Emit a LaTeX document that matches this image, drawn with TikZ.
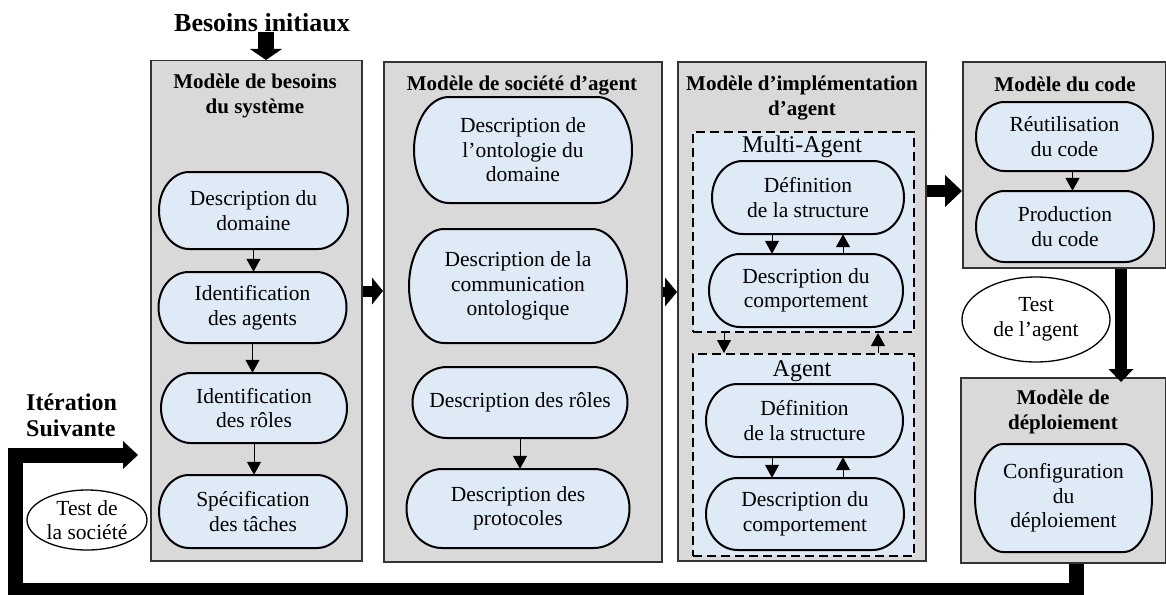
\documentclass[tikz,border=0pt]{standalone}
\usepackage{fontspec}
\setmainfont{Liberation Serif}
\usetikzlibrary{arrows.meta,shapes.geometric}

\definecolor{boxgray}{HTML}{D9D9D9}
\definecolor{stepblue}{HTML}{DEEAF6}

% Terminator-shaped step: straight top and bottom, half-elliptic ends.
% #1 name, #2 centre x, #3 centre y, #4 width, #5 height, #6 text
\newcommand\termnode[6]{%
  \draw[termline] ({#2-#4/2+0.16*#4},{#3-#5/2})
    arc[start angle=90,end angle=270,x radius={0.16*#4pt},y radius={#5/2*1pt}]
    -- ({#2+#4/2-0.16*#4},{#3+#5/2})
    arc[start angle=-90,end angle=90,x radius={0.16*#4pt},y radius={#5/2*1pt}]
    -- cycle;
  \node[proc,minimum width=#4pt,minimum height=#5pt] (#1) at (#2,#3) {#6};}

\begin{document}
\begin{tikzpicture}[x=1pt,y=-1pt,
  model/.style={draw=black!80,line width=1.5pt,fill=boxgray,inner sep=0pt,anchor=north west},
  title/.style={font=\fontsize{21}{25}\selectfont\bfseries,align=center,inner sep=0pt},
  termline/.style={draw,line width=2pt,fill=stepblue},
  proc/.style={align=center,inner sep=0pt,font=\fontsize{21.5}{24.5}\selectfont},
  group/.style={draw,line width=2pt,dash pattern=on 9pt off 5pt,fill=stepblue,
                inner sep=0pt,anchor=north west},
  grouplabel/.style={font=\fontsize{24}{26}\selectfont,inner sep=0pt},
  testbubble/.style={draw,ellipse,line width=1.3pt,fill=white,inner sep=0pt,align=center,
                     font=\fontsize{21.5}{24.5}\selectfont},
  flow/.style={line width=1pt,-{Triangle[length=13pt,width=14pt]}},
]
\useasboundingbox (0,0) rectangle (1166,594);

% ---------- model boxes ----------
\node[model,minimum width=211pt,minimum height=500pt] (box1) at (150,60) {};
\node[model,minimum width=278pt,minimum height=500pt] (box2) at (383,61) {};
\node[model,minimum width=248pt,minimum height=499pt] (box3) at (677,61) {};
\node[model,minimum width=203pt,minimum height=206pt] (box4) at (962,61) {};
\node[model,minimum width=205pt,minimum height=185pt] (box5) at (960,377) {};

% ---------- titles ----------
\node[font=\fontsize{26}{28}\selectfont\bfseries,inner sep=0pt] (need) at (262,23) {Besoins initiaux};
\node[title] (t1) at (255,95.5) {Modèle de besoins\\du système};
\node[title] (t2) at (522,86) {Modèle de société d’agent};
\node[title] (t3) at (802,98) {Modèle d’implémentation\\d’agent};
\node[title] (t4) at (1065,84) {Modèle du code};
\node[title] (t5) at (1063,412) {Modèle de\\déploiement};
\node[font=\fontsize{24}{26}\selectfont\bfseries,align=left,inner sep=0pt,anchor=west]
  (iter) at (26,415) {Itération\\Suivante};

% ---------- requirements model ----------
\termnode{n11}{253.5}{210.5}{189}{77}{Description du\\domaine}
\termnode{n12}{252.5}{307.5}{188}{71}{Identification\\des agents}
\termnode{n13}{254}{408}{186}{70}{Identification\\des rôles}
\termnode{n14}{253}{511.5}{188}{73}{Spécification\\des tâches}
\draw[flow] (n11.south) -- (n11.south |- n12.north);
\draw[flow] (n12.south) -- (n12.south |- n13.north);
\draw[flow] (n13.south) -- (n13.south |- n14.north);

% ---------- agent society model ----------
\termnode{n21}{523}{150}{218}{106}{Description de\\l’ontologie du\\domaine}
\termnode{n22}{518}{286}{218}{114}{Description de la\\communication\\ontologique}
\termnode{n23}{520}{402.5}{215}{71}{Description des rôles}
\termnode{n24}{518}{508.5}{223}{79}{Description des\\protocoles}
\draw[flow] (n23.south) -- (n23.south |- n24.north);

% ---------- agent implementation model ----------
\node[group,minimum width=221pt,minimum height=200pt] (ma) at (692,131) {};
\node[group,minimum width=221pt,minimum height=202pt] (ag) at (692,353) {};
\node[grouplabel] (malab) at (802,147) {Multi-Agent};
\node[grouplabel] (aglab) at (802,371) {Agent};
\termnode{n31}{808}{197.5}{192}{73}{Définition\\de la structure}
\termnode{n32}{806}{290.5}{194}{73}{Description du\\comportement}
\termnode{n33}{804.5}{420.5}{197}{73}{Définition\\de la structure}
\termnode{n34}{805}{514}{198}{72}{Description du\\comportement}
\draw[flow] ([xshift=-36pt]n31.south) -- ([xshift=-36pt]n31.south |- n32.north);
\draw[flow] ([xshift=35pt]n31.south |- n32.north) -- ([xshift=35pt]n31.south);
\draw[flow] ([xshift=-32.5pt]n33.south) -- ([xshift=-32.5pt]n33.south |- n34.north);
\draw[flow] ([xshift=38.5pt]n33.south |- n34.north) -- ([xshift=38.5pt]n33.south);
\draw[flow] ([xshift=-79.5pt]ma.south) -- ([xshift=-79.5pt]ma.south |- ag.north);
\draw[flow] ([xshift=74.5pt]ma.south |- ag.north) -- ([xshift=74.5pt]ma.south);

% ---------- code model ----------
\termnode{n41}{1064.5}{136.5}{177}{69}{Réutilisation\\du code}
\termnode{n42}{1065}{226.5}{178}{71}{Production\\du code}
\draw[flow] ([xshift=8pt]n41.south) -- ([xshift=8pt]n41.south |- n42.north);

% ---------- deployment model ----------
\termnode{n51}{1063.5}{498}{177}{108}{Configuration\\du\\déploiement}

% ---------- tests ----------
\node[testbubble,minimum width=148pt,minimum height=85pt] (tagent) at (1036,319.5) {Test\\de l’agent};
\node[testbubble,minimum width=120pt,minimum height=60pt] (tsoc) at (87,520) {Test de\\la société};

% ---------- phase transitions ----------
\draw[line width=16pt,-{Triangle[length=11pt,width=32pt,line width=0pt]}]
  ([xshift=4pt]need.south) -- ([xshift=4pt]need.south |- box1.north);
\draw[line width=11pt,-{Triangle[length=11pt,width=27pt,line width=0pt]}]
  (box1.east |- 0,291) -- (box2.west |- 0,291);
\draw[line width=10pt,-{Triangle[length=12pt,width=29pt,line width=0pt]}]
  (box2.east |- 0,292) -- (box3.west |- 0,292);
\draw[line width=12pt,-{Triangle[length=17pt,width=32pt,line width=0pt]}]
  (box3.east |- 0,191) -- (box4.west |- 0,191);
\draw[line width=12pt,-{Triangle[length=13pt,width=25pt,line width=0pt]}]
  (box4.south -| 1121,0) -- ([yshift=-5pt]box5.north -| 1121,0);

% ---------- next iteration loop ----------
\coordinate (loopstart) at ([xshift=13.5pt]box5.south);
\draw[line width=15pt,line join=miter,-{Triangle[length=15pt,width=28pt,line width=0pt]}]
  (loopstart) -- (loopstart |- 0,590) -- (15.5,590) -- (15.5,455) -- ([xshift=-12pt]box1.west |- 0,455);
\end{tikzpicture}
\end{document}
